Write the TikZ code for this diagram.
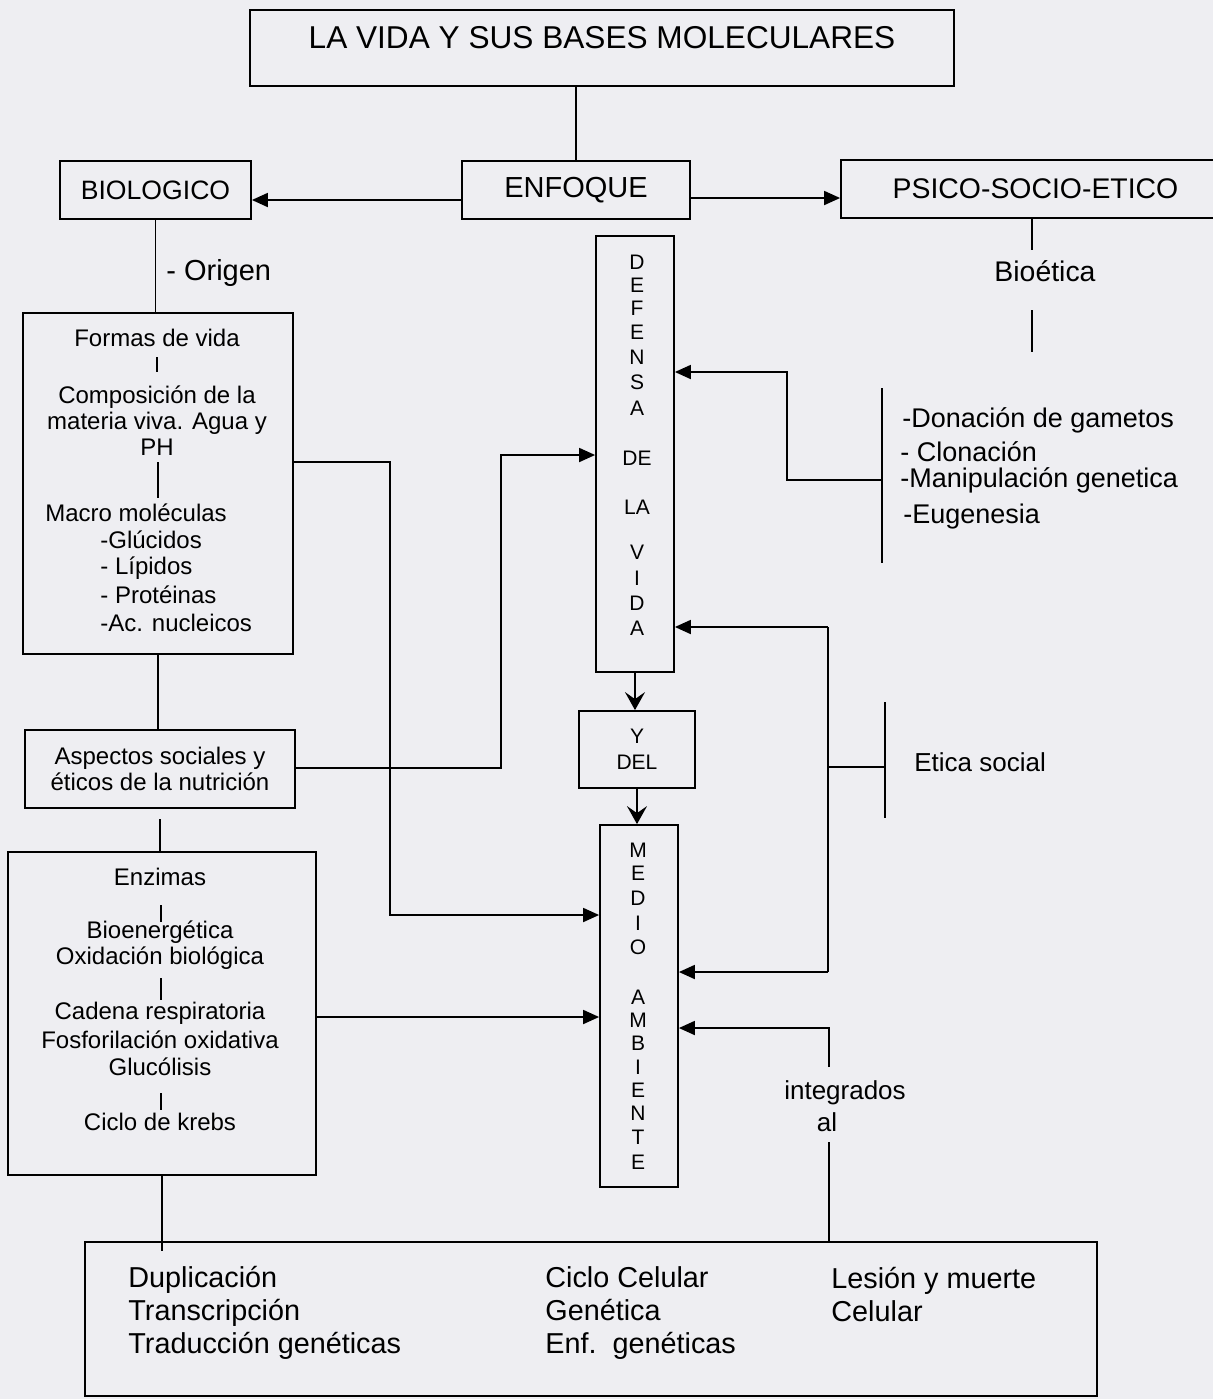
\documentclass[tikz,border=0pt]{standalone}
\usepackage{fontspec}
\setmainfont{Liberation Sans}
\usetikzlibrary{arrows.meta}

\definecolor{papel}{RGB}{238,238,242}

\tikzset{
  caja/.style={draw, line width=0.9pt, inner sep=0pt, font=\fontsize{12}{13}\selectfont},
  letra/.style={inner sep=0pt, font=\fontsize{10.5}{12}\selectfont},
  texto/.style={inner sep=0pt, font=\fontsize{12}{13}\selectfont},
  grande/.style={inner sep=0pt, font=\fontsize{13.5}{16}\selectfont},
  linea/.style={line width=0.9pt},
  flecha/.style={line width=0.9pt, -{Triangle[length=8pt,width=7pt]}},
  bajada/.style={line width=0.9pt, -{Stealth[length=9pt,width=10pt,inset=3.5pt]}}
}

\begin{document}
\begin{tikzpicture}[x=0.5pt,y=-0.5pt]
\fill[papel] (0,0) rectangle (1213,1399);
\useasboundingbox (0,0) rectangle (1213,1399);

% cajas principales
\node[caja, minimum width=352pt, minimum height=38pt, text depth=11pt,
      font=\fontsize{15.8}{18}\selectfont] (titulo) at (602,48) {LA VIDA Y SUS BASES MOLECULARES};
\node[caja, minimum width=114pt, minimum height=29pt,
      font=\fontsize{14.5}{17}\selectfont] (enfoque) at (576,190) {ENFOQUE};
\node[caja, minimum width=95.5pt, minimum height=29pt,
      font=\fontsize{13.3}{16}\selectfont] (biologico) at (155.5,190) {BIOLOGICO};
\node[caja, minimum width=194.5pt, minimum height=29pt,
      font=\fontsize{14.2}{17}\selectfont] (psico) at (1035.5,189) {PSICO-SOCIO-ETICO};
\node[caja, minimum width=39pt, minimum height=218pt] (defensa) at (635,454) {};
\node[caja, minimum width=58pt, minimum height=38.5pt, align=center,
      font=\fontsize{10.5}{13}\selectfont] (ydel) at (637,749.5) {Y\\DEL};
\node[caja, minimum width=39pt, minimum height=181pt] (medio) at (639,1006) {};
\node[caja, minimum width=135pt, minimum height=170.5pt] (formas) at (158,483.5) {};
\node[caja, minimum width=135pt, minimum height=39pt, align=center] (aspectos) at (160,769)
  {Aspectos sociales y\\éticos de la nutrición};
\node[caja, minimum width=154pt, minimum height=161.5pt] (enzimas) at (162,1013.5) {};
\node[caja, minimum width=506pt, minimum height=77pt] (abajo) at (591,1319) {};

% letras de las cajas verticales
\foreach \t/\y [count=\i] in {D/262,E/285,F/308,E/332,N/357,S/382,A/408,DE/458,LA/507,V/552,I/578,D/603,A/628}
  \node[letra] (def\i) at (637,\y) {\t};
\foreach \t/\y [count=\i] in {M/850,E/873,D/898,I/923,O/947,A/997,M/1020,B/1043,I/1067,E/1090,N/1113,T/1137,E/1162}
  \node[letra] (med\i) at (638,\y) {\t};

% textos de la rama biologica
\node[texto] (f1) at (157,338) {Formas de vida};
\node[texto, align=center] (f2) at (157,421) {Composición de la\\materia viva. Agua y\\PH};
\node[texto, anchor=west] (f3) at (45,513) {Macro moléculas};
\node[texto, anchor=west] (f4) at (100,540) {-Glúcidos};
\node[texto, anchor=west] (f5) at (100,568) {- Lípidos};
\node[texto, anchor=west] (f6) at (100,595) {- Protéinas};
\node[texto, anchor=west] (f7) at (100,623) {-Ac. nucleicos};
\draw[linea] (157,357) -- (157,372);
\draw[linea] (158,462) -- (158,498);

\node[texto] (z1) at (160,877) {Enzimas};
\node[texto] (z2) at (160,932) {Bioenergética};
\node[texto] (z3) at (160,958) {Oxidación biológica};
\node[texto] (z4) at (160,1013) {Cadena respiratoria};
\node[texto] (z5) at (160,1040) {Fosforilación oxidativa};
\node[texto] (z6) at (160,1067) {Glucólisis};
\node[texto] (z7) at (160,1122) {Ciclo de krebs};
\draw[linea] (161,905) -- (161,922);
\draw[linea] (161,978) -- (161,1000);
\draw[linea] (161,1093) -- (161,1110);

% etiquetas sueltas
\node[inner sep=0pt, anchor=west, font=\fontsize{14.5}{17}\selectfont] (origen) at (166,273) {- Origen};
\node[inner sep=0pt, font=\fontsize{14.2}{17}\selectfont] (bioetica) at (1045,271) {Bioética};
\node[grande, anchor=west] (l1) at (902,420) {-Donación de gametos};
\node[grande, anchor=west] (l2) at (900,452) {- Clonación};
\node[grande, anchor=west] (l3) at (900,480) {-Manipulación genetica};
\node[grande, anchor=west] (l4) at (903,517) {-Eugenesia};
\node[inner sep=0pt, anchor=west, font=\fontsize{13}{16}\selectfont] (etica) at (914,762) {Etica social};
\node[inner sep=0pt, font=\fontsize{13}{16}\selectfont] (integ) at (845,1093) {integrados};
\node[inner sep=0pt, font=\fontsize{13}{16}\selectfont] (al) at (827,1122) {al};

% caja de abajo
\node[inner sep=0pt, anchor=west, align=left, font=\fontsize{14.4}{16.5}\selectfont] (c1) at (128,1313)
  {Duplicación\\Transcripción\\Traducción genéticas};
\node[inner sep=0pt, anchor=west, align=left, font=\fontsize{14.4}{16.5}\selectfont] (c2) at (545,1313)
  {Ciclo Celular\\Genética\\Enf.\ \ genéticas};
\node[inner sep=0pt, anchor=west, align=left, font=\fontsize{14.4}{16.5}\selectfont] (c3) at (831,1295)
  {Lesión y muerte\\Celular};

% conectores
\draw[linea] (titulo.south -| enfoque.north) -- (enfoque.north);
\draw[flecha] ([yshift=-5pt]enfoque.west) -- ([yshift=-5pt]enfoque.west -| biologico.east);
\draw[flecha] ([yshift=-4pt]enfoque.east) -- ([yshift=-4pt]enfoque.east -| psico.west);
\draw[linea] (biologico.south) -- (biologico.south |- formas.north);
\draw[linea] (formas.south) -- (formas.south |- aspectos.north);
\coordinate (g1) at (160,819);
\draw[linea] (g1) -- (g1 |- enzimas.north);
\draw[linea] (enzimas.south) -- ([yshift=-5pt]enzimas.south |- abajo.north);

\coordinate (b1) at (1032,250);
\coordinate (b2) at (1032,310);
\coordinate (b3) at (1032,352);
\draw[linea] (b1 |- psico.south) -- (b1);
\draw[linea] (b2) -- (b3);

\coordinate (r1) at (882,388);
\coordinate (r2) at (882,563);
\coordinate (rama1) at (882,480);
\coordinate (giro1) at (787,372);
\draw[linea] (r1) -- (r2);
\draw[flecha] (rama1) -| (giro1) -- (giro1 -| defensa.east);

\coordinate (e1) at (885,702);
\coordinate (e2) at (885,818);
\coordinate (e3) at (885,767);
\coordinate (vtop) at (828,627);
\coordinate (vbot) at (828,972);
\draw[linea] (e1) -- (e2);
\draw[linea] (e3) -- (e3 -| vtop);
\draw[linea] (vtop) -- (vbot);
\draw[flecha] (vtop) -- (vtop -| defensa.east);
\draw[flecha] (vbot) -- (vbot -| medio.east);

\coordinate (i1) at (829,1067);
\coordinate (i2) at (829,1028);
\coordinate (i3) at (829,1142);
\draw[flecha] (i1) -- (i2) -- (i2 -| medio.east);
\draw[linea] (i3) -- (i3 |- abajo.north);

\coordinate (fa) at (390,462);
\coordinate (fb) at (390,915);
\draw[flecha] (fa -| formas.east) -- (fa) -- (fb) -- (fb -| medio.west);
\coordinate (aa) at (501,768);
\coordinate (ab) at (501,455);
\draw[flecha] (aa -| aspectos.east) -- (aa) -- (ab) -- (ab -| defensa.west);
\coordinate (za) at (400,1017);
\draw[flecha] (za -| enzimas.east) -- (za -| medio.west);

\draw[bajada] (defensa.south) -- (defensa.south |- ydel.north);
\draw[bajada] (ydel.south) -- (ydel.south |- medio.north);
\end{tikzpicture}
\end{document}
